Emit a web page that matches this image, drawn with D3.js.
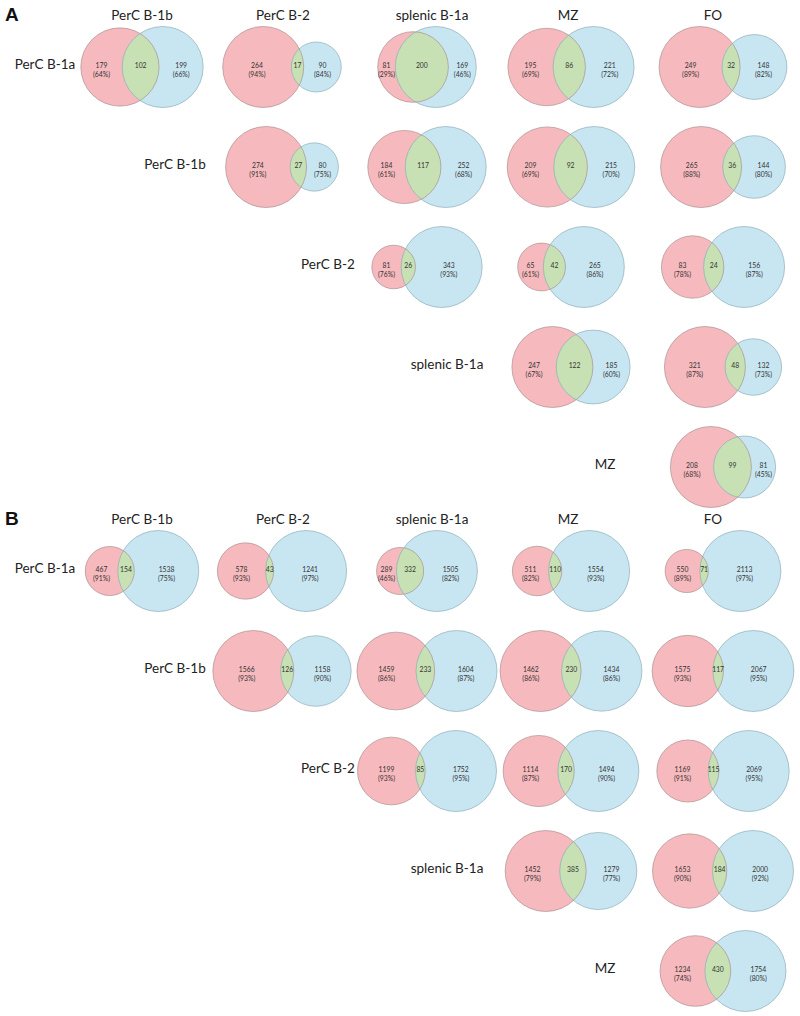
<!DOCTYPE html>
<html><head><meta charset="utf-8">
<script src="https://cdn.jsdelivr.net/npm/d3@7"></script>
<style>body{margin:0;background:#fff}svg{display:block}</style>
</head><body>
<script>
// ---------- data ----------
const rowCats = ["PerC B-1a","PerC B-1b","PerC B-2","splenic B-1a","MZ"];
const colCats = ["PerC B-1b","PerC B-2","splenic B-1a","MZ","FO"];
const panels = ["A","B"];

// Panel A (row-major, upper triangle)
const aLeftOnly  = [179,264,81,195,249, 274,184,209,265, 81,65,83, 247,321, 208];
const aBoth      = [102,17,200,86,32, 27,117,92,36, 26,42,24, 122,48, 99];
const aRightOnly = [199,90,169,221,148, 80,252,215,144, 343,265,156, 185,132, 81];
const aLeftPct   = [64,94,29,69,89, 91,61,69,88, 76,61,78, 67,87, 68];
const aRightPct  = [66,84,46,72,82, 75,68,70,80, 93,86,87, 60,73, 45];

// Panel B
const bLeftOnly  = [467,578,289,511,550, 1566,1459,1462,1575, 1199,1114,1169, 1452,1653, 1234];
const bBoth      = [154,43,332,110,71, 126,233,230,117, 85,170,115, 385,184, 430];
const bRightOnly = [1538,1241,1505,1554,2113, 1158,1604,1434,2067, 1752,1494,2069, 1279,2000, 1754];
const bLeftPct   = [91,93,46,82,89, 93,86,86,93, 93,87,91, 79,90, 74];
const bRightPct  = [75,97,82,93,97, 90,87,86,95, 95,90,95, 77,92, 80];

const panelData = {
  A: {left:aLeftOnly, both:aBoth, right:aRightOnly, lp:aLeftPct, rp:aRightPct},
  B: {left:bLeftOnly, both:bBoth, right:bRightOnly, lp:bLeftPct, rp:bRightPct}
};

// ---------- layout ----------
const W = 800, H = 1016;
const R = 40.5;
const svg = d3.select("body").append("svg").attr("width",W).attr("height",H);

const panelY = d3.scaleOrdinal().domain(panels).range([0,504]);
const colX = d3.scaleOrdinal().domain(colCats).range([142,282,427,571,723]);
const headX = d3.scaleOrdinal().domain(colCats).range([142,283,432,568,713]);
const rowY = d3.scalePoint().domain(rowCats).range([67,467]);
const rowLabelX = d3.scaleOrdinal().domain(rowCats).range([45,175,328,447,605]);

const font = "Lato, 'Noto Sans', sans-serif";
const colors = {left:"#f6babe", right:"#c8e6f2", both:"#c8e1b4", leftStroke:"#a08486", rightStroke:"#7fa2ad"};

function lensArea(r1,r2,d){
  if (d >= r1+r2) return 0;
  if (d <= Math.abs(r1-r2)) return Math.PI*Math.min(r1,r2)**2;
  const a1 = Math.acos((d*d+r1*r1-r2*r2)/(2*d*r1));
  const a2 = Math.acos((d*d+r2*r2-r1*r1)/(2*d*r2));
  return r1*r1*a1 + r2*r2*a2 - 0.5*Math.sqrt((-d+r1+r2)*(d+r1-r2)*(d-r1+r2)*(d+r1+r2));
}
function solveD(r1,r2,area){
  let lo = Math.abs(r1-r2)+1e-9, hi = r1+r2;
  for (let i=0;i<80;i++){
    const m=(lo+hi)/2;
    if (lensArea(r1,r2,m) > area) lo=m; else hi=m;
  }
  return (lo+hi)/2;
}

panels.forEach(p => {
  const g = svg.append("g").attr("transform",`translate(0,${panelY(p)})`);
  const D = panelData[p];

  g.append("text").attr("x",5).attr("y",21)
    .attr("font-family","'Liberation Sans', Arial, sans-serif").attr("font-weight","bold")
    .attr("font-size",19).attr("fill","#111").text(p);

  colCats.forEach(c => {
    g.append("text").attr("x",headX(c)).attr("y",20).attr("text-anchor","middle")
      .attr("font-family",font).attr("font-size",13.5).attr("fill","#222").text(c);
  });
  rowCats.forEach(r => {
    g.append("text").attr("x",rowLabelX(r)).attr("y",rowY(r)+1.5).attr("text-anchor","middle")
      .attr("font-family",font).attr("font-size",13.5).attr("fill","#222").text(r);
  });

  let k = 0;
  rowCats.forEach((r,ri) => {
    colCats.forEach((c,ci) => {
      if (ci < ri) return;
      const idx = k++;
      const nL = D.left[idx], nB = D.both[idx], nR = D.right[idx];
      const tL = nL+nB, tR = nR+nB;
      const r1u = Math.sqrt(tL/Math.PI), r2u = Math.sqrt(tR/Math.PI);
      const du = solveD(r1u,r2u,nB);
      const s = d3.scaleLinear().domain([0,Math.max(r1u,r2u)]).range([0,R]);
      const r1 = s(r1u), r2 = s(r2u), d = s(du);
      const left = -r1, right = d + r2;
      const off = colX(c) - (left+right)/2;
      const x1 = off, x2 = off + d, cy = rowY(r);

      const dg = g.append("g");
      dg.append("circle").attr("cx",x1).attr("cy",cy).attr("r",r1).attr("fill",colors.left);
      dg.append("circle").attr("cx",x2).attr("cy",cy).attr("r",r2).attr("fill",colors.right);
      const a = (d*d + r1*r1 - r2*r2)/(2*d);
      const h = Math.sqrt(Math.max(0,r1*r1 - a*a));
      const px = x1 + a;
      const large1 = a < 0 ? 1 : 0;
      const large2 = a > d ? 1 : 0;
      dg.append("path")
        .attr("d",`M${px},${cy-h} A${r1},${r1} 0 ${large1} 1 ${px},${cy+h} A${r2},${r2} 0 ${large2} 1 ${px},${cy-h} Z`)
        .attr("fill",colors.both);
      dg.append("circle").attr("cx",x1).attr("cy",cy).attr("r",r1).attr("fill","none")
        .attr("stroke",colors.leftStroke).attr("stroke-width",0.6);
      dg.append("circle").attr("cx",x2).attr("cy",cy).attr("r",r2).attr("fill","none")
        .attr("stroke",colors.rightStroke).attr("stroke-width",0.6);

      const lensL = x2 - r2, lensR = x1 + r1;
      const xl = (x1 - r1 + lensL)/2, xm = (lensL + lensR)/2, xr = (lensR + x2 + r2)/2;
      const t = (x,y,txt) => dg.append("text").attr("x",x).attr("y",y).attr("text-anchor","middle")
        .attr("font-family",font).attr("font-size",6.8).attr("fill","#333").text(txt);
      t(xl, cy+0.5, nL); t(xl, cy+9.5, `(${D.lp[idx]}%)`);
      t(xm, cy+0.5, nB);
      t(xr, cy+0.5, nR); t(xr, cy+9.5, `(${D.rp[idx]}%)`);
    });
  });
});
</script>
</body></html>
